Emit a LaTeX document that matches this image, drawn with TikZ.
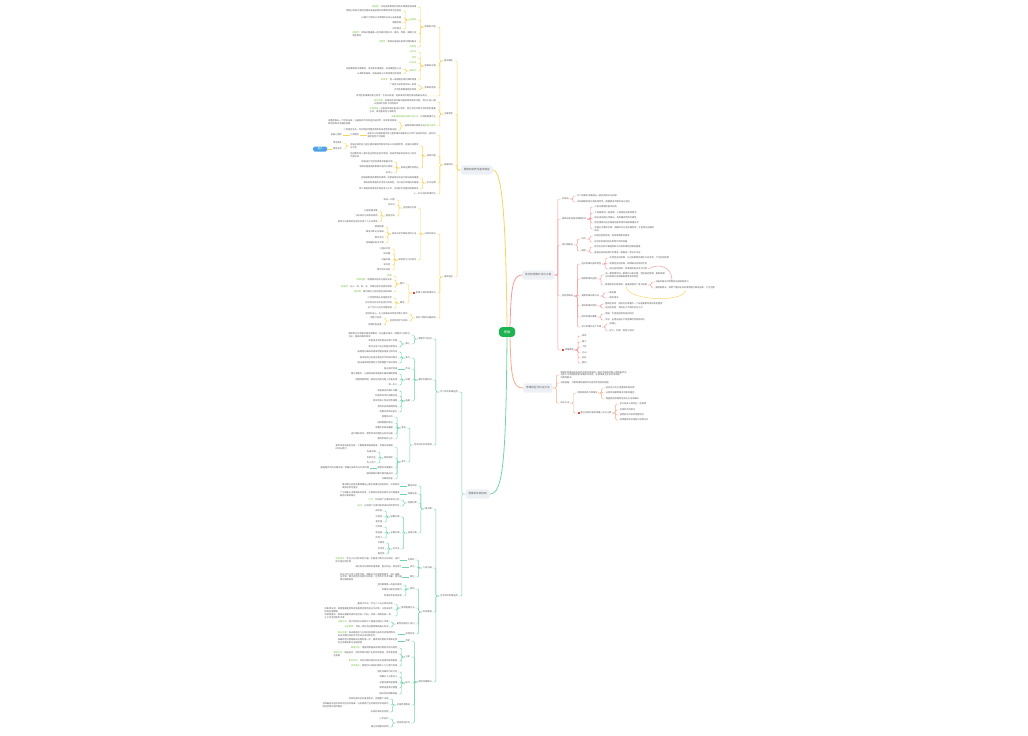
\documentclass[tikz,border=0pt]{standalone}
\usepackage{fontspec}
\setmainfont{Noto Sans CJK SC}
\usetikzlibrary{positioning}
\definecolor{rootgreen}{HTML}{1DB350}
\definecolor{topicgrey}{HTML}{EDF0F4}
\definecolor{textgrey}{HTML}{5C5C5C}
\definecolor{linkyellow}{HTML}{F8D35E}
\definecolor{linkred}{HTML}{F59A9A}
\definecolor{linkorange}{HTML}{F7AE86}
\definecolor{linkgreen}{HTML}{6FD6A8}
\definecolor{taggreen}{HTML}{78C043}
\definecolor{markred}{HTML}{E8453C}
\definecolor{noteblue}{HTML}{4DA3E6}
\newcommand{\tg}[1]{\textcolor{taggreen}{#1}}
\newcommand{\redmark}{\textcolor{markred}{\rule[-0.3pt]{2.2pt}{2.2pt}}\hspace{0.7pt}}
\tikzset{
  leaf/.style={font=\fontsize{2.2}{2.7}\selectfont,text=textgrey,inner sep=0.5pt,align=left},
  lc/.style={leaf,anchor=east,xshift=-7pt},
  rc/.style={leaf,anchor=west,xshift=7pt},
  topic/.style={fill=topicgrey,rounded corners=2.5pt,font=\fontsize{2.6}{3}\selectfont,
    text=textgrey,inner xsep=3pt,minimum height=7pt},
  rootnode/.style={fill=rootgreen,text=white,rounded corners=3pt,font=\fontsize{3.2}{4}\selectfont,
    minimum width=16pt,minimum height=8pt},
  note/.style={fill=noteblue,text=white,rounded corners=1.5pt,font=\fontsize{2.3}{2.8}\selectfont,
    minimum width=14pt,minimum height=5pt,inner sep=0.5pt},
  link/.style={line width=0.45pt,rounded corners=1.2pt},
  yl/.style={link,draw=linkyellow},
  rl/.style={link,draw=linkred},
  ol/.style={link,draw=linkorange},
  gl/.style={link,draw=linkgreen},
  trunk/.style={line width=0.8pt}
}
\begin{document}
\begin{tikzpicture}[x=1pt,y=-1pt]
\fill[white] (0,0) rectangle (1028,736);
\useasboundingbox (0,0) rectangle (1028,736);

% centre and main topics
\node[rootnode] (root) at (507,332) {思维};
\node[topic,anchor=east] (y0) at (493,170) {思维的本质与基本特征};
\node[topic,anchor=west] (r1) at (522,275) {常见的思维方法与工具};
\node[topic,anchor=west] (r2) at (523,388) {思维误区与纠正方法};
\node[topic,anchor=east] (g0) at (490,494) {思维的实践应用};
\draw[trunk,draw=linkyellow] (root.north) .. controls (506,230) and (503,170) .. (y0.east);
\draw[trunk,draw=linkred] ([xshift=3pt]root.north) .. controls (511,290) and (512,275) .. (r1.west);
\draw[trunk,draw=linkorange] ([xshift=3pt]root.south) .. controls (511,375) and (512,388) .. (r2.west);
\draw[trunk,draw=linkgreen] (root.south) .. controls (506,460) and (503,494) .. (g0.east);

% ---- yellow branch
\node[lc] (ya) at (y0.west |- 0,61) {基本属性};
\node[lc] (yb) at (y0.west |- 0,114) {主要类型};
\node[lc] (yc) at (y0.west |- 0,165) {发展阶段};
\node[lc] (yd) at (y0.west |- 0,277) {培养途径};
\foreach \c in {ya,yb,yc,yd} \draw[yl] (y0.west) -- ++(-3.5pt,0) |- (\c.east);

\node[lc] (ya1) at (ya.west |- 0,27) {思维的对象};
\node[lc] (ya2) at (ya.west |- 0,66) {思维的过程};
\node[lc] (ya3) at (ya.west |- 0,88) {思维的品质};
\node[lc,xshift=-9pt] (ya4) at (ya.west |- 0,96) {批判性思维要求独立思考，不盲从权威，能够发现问题并提出质疑与改进};
\foreach \c in {ya1,ya2,ya3,ya4} \draw[yl] (ya.west) -- ++(-3.5pt,0) |- (\c.east);

\node[lc] (ya1a) at (ya1.west |- 0,7) {\tg{概括性}：反映同类事物共同的本质属性和规律};
\node[lc] (ya1b) at (ya1.west |- 0,20) {\tg{间接性}};
\node[lc] (ya1c) at (ya1.west |- 0,34) {\tg{逻辑性}：思维过程遵循一定的规则和形式，概念、判断、推理之间\\相互联系};
\node[lc] (ya1d) at (ya1.west |- 0,42) {\tg{问题性}：思维总是指向具体问题的解决};
\node[lc] (ya1e) at (ya1.west |- 0,47) {\tg{目的性}};
\foreach \c in {ya1a,ya1b,ya1c,ya1d,ya1e} \draw[yl] (ya1.west) -- ++(-3.5pt,0) |- (\c.east);
\node[lc] (ya1b1) at (ya1b.west |- 0,11) {借助已有知识和经验推知未直接感知的事物及其内在联系};
\node[lc] (ya1b2) at (ya1b.west |- 0,18) {以媒介为桥梁认识事物的过去与未来发展};
\node[lc] (ya1b3) at (ya1b.west |- 0,23) {推理判断};
\node[lc] (ya1b4) at (ya1b.west |- 0,29) {科学预见};
\foreach \c in {ya1b1,ya1b2,ya1b3,ya1b4} \draw[yl] (ya1b.west) -- ++(-3.5pt,0) |- (\c.east);

\node[lc] (ya2a) at (ya2.west |- 0,52) {\tg{分析法}};
\node[lc] (ya2b) at (ya2.west |- 0,58) {\tg{综合}};
\node[lc] (ya2c) at (ya2.west |- 0,63) {\tg{比较法}};
\node[lc] (ya2d) at (ya2.west |- 0,71) {\tg{抽象化}};
\node[lc] (ya2e) at (ya2.west |- 0,80) {\tg{具体化}：把一般原理应用到具体情境};
\foreach \c in {ya2a,ya2b,ya2c,ya2d,ya2e} \draw[yl] (ya2.west) -- ++(-3.5pt,0) |- (\c.east);
\node[lc] (ya2d1) at (ya2d.west |- 0,69) {抽取事物的本质属性，舍弃非本质属性，形成概括性认识};
\node[lc] (ya2d2) at (ya2d.west |- 0,74) {从具体到抽象，再由抽象上升到思维中的具体};
\foreach \c in {ya2d1,ya2d2} \draw[yl] (ya2d.west) -- ++(-3.5pt,0) |- (\c.east);

\node[lc] (ya3a) at (ya3.west |- 0,85) {广阔性与深刻性的统一表现};
\node[lc] (ya3b) at (ya3.west |- 0,90) {灵活性和敏捷性的体现};
\foreach \c in {ya3a,ya3b} \draw[yl] (ya3.west) -- ++(-3.5pt,0) |- (\c.east);

\node[lc] (yb1) at (yb.west |- 0,102) {\tg{动作思维}：依靠实际动作解决直观而具体的问题，常见于幼儿期\\以及操作性的工作情境中};
\node[lc] (yb2) at (yb.west |- 0,110) {\tg{形象思维}：运用表象和形象进行思考，是艺术创作和文学构思的重要\\方式，具有直观性与想象性};
\node[lc] (yb3) at (yb.west |- 0,117) {\tg{抽象逻辑思维以概念为形式}，以判断推理为主};
\node[lc] (yb4) at (yb.west |- 0,126) {按照思维的探索方向\tg{发散与聚合}};
\foreach \c in {yb1,yb2,yb3,yb4} \draw[yl] (yb.west) -- ++(-3.5pt,0) |- (\c.east);
\node[lc] (yb4a) at (yb4.west |- 0,122) {发散思维从一个目标出发，沿着各种不同的途径去思考，探求多种答案\\聚合思维寻求最佳答案};
\node[lc] (yb4b) at (yb4.west |- 0,130) {二者相互补充，共同构成完整而有效的创造性思维过程};
\foreach \c in {yb4a,yb4b} \draw[yl] (yb4.west) -- ++(-3.5pt,0) |- (\c.east);

\node[lc] (yc1) at (yc.west |- 0,135) {皮亚杰认知发展理论将儿童思维的发展划分为四个连续的阶段，各阶段\\顺序固定不可逾越};
\node[lc] (yc2) at (yc.west |- 0,156) {具体内容};
\node[lc] (yc3) at (yc.west |- 0,183) {形式运算};
\node[lc] (yc4) at (yc.west |- 0,194) {十一岁以后的思维特点};
\foreach \c in {yc1,yc2,yc3,yc4} \draw[yl] (yc.west) -- ++(-3.5pt,0) |- (\c.east);
\node[lc] (yc1x) at (yc1.west |- 0,135) {认知理论};
\node[lc] (yc1y) at (yc1x.west |- 0,135) {发展心理学};
\draw[yl] (yc1.west) -- (yc1x.east);
\draw[yl] (yc1x.west) -- (yc1y.east);
\node[lc] (yc2a) at (yc2.west |- 0,146) {感知运动阶段儿童主要依靠感觉和动作来认识周围世界，逐渐形成客体\\永久性};
\node[lc] (yc2b) at (yc2.west |- 0,155) {前运算阶段儿童开始运用符号进行思维，但具有明显的自我中心特点，\\不能守恒};
\node[lc] (yc2c) at (yc2.west |- 0,168) {具体运算阶段特征};
\foreach \c in {yc2a,yc2b,yc2c} \draw[yl] (yc2.west) -- ++(-3.5pt,0) |- (\c.east);
\node[lc] (yc2a1) at (yc2a.west |- 0,143) {零至两岁};
\node[lc] (yc2a2) at (yc2a.west |- 0,149) {客体永存};
\foreach \c in {yc2a1,yc2a2} \draw[yl] (yc2a.west) -- ++(-3.5pt,0) |- (\c.east);
\node[note,anchor=east,xshift=-5pt] (yc2n) at (yc2a2.west |- 0,149) {重点};
\draw[yl] (yc2a2.west) -- (yc2n.east);
\node[lc] (yc2c1) at (yc2c.west |- 0,162) {能够进行可逆性思维并掌握守恒};
\node[lc] (yc2c2) at (yc2c.west |- 0,167) {思维仍需要具体事物的支持与帮助};
\node[lc] (yc2c3) at (yc2c.west |- 0,173) {去中心};
\foreach \c in {yc2c1,yc2c2,yc2c3} \draw[yl] (yc2c.west) -- ++(-3.5pt,0) |- (\c.east);
\node[lc] (yc3a) at (yc3.west |- 0,178) {能够摆脱具体事物的束缚，运用抽象符号进行假设演绎推理};
\node[lc] (yc3b) at (yc3.west |- 0,183) {思维具有更高的灵活性与系统性，可以进行命题间的推理};
\node[lc] (yc3c) at (yc3.west |- 0,189) {青少年期的思维逐步接近成人水平，形成较为完整的逻辑体系};
\foreach \c in {yc3a,yc3b,yc3c} \draw[yl] (yc3.west) -- ++(-3.5pt,0) |- (\c.east);

\node[lc] (yd1) at (yd.west |- 0,234) {日常训练法};
\node[lc] (yd2) at (yd.west |- 0,293) {\redmark 思维工具的使用技巧};
\node[lc] (yd3) at (yd.west |- 0,318) {良好习惯的长期养成};
\foreach \c in {yd1,yd2,yd3} \draw[yl] (yd.west) -- ++(-3.5pt,0) |- (\c.east);
\node[lc] (yd1a) at (yd1.west |- 0,208) {坚持提问反思};
\node[lc] (yd1b) at (yd1.west |- 0,234) {阅读与写作相结合的方法};
\node[lc] (yd1c) at (yd1.west |- 0,260) {积极参与讨论辩论};
\foreach \c in {yd1a,yd1b,yd1c} \draw[yl] (yd1.west) -- ++(-3.5pt,0) |- (\c.east);
\node[lc] (yd1a1) at (yd1a.west |- 0,200) {每日一问题};
\node[lc] (yd1a2) at (yd1a.west |- 0,205) {写日记};
\node[lc] (yd1a3) at (yd1a.west |- 0,216) {复盘总结};
\foreach \c in {yd1a1,yd1a2,yd1a3} \draw[yl] (yd1a.west) -- ++(-3.5pt,0) |- (\c.east);
\node[lc] (yd1a3a) at (yd1a3.west |- 0,211) {记录关键决策};
\node[lc] (yd1a3b) at (yd1a3.west |- 0,216) {分析成功与失败的原因};
\node[lc] (yd1a3c) at (yd1a3.west |- 0,222) {提炼可以复用的经验并形成个人方法清单};
\foreach \c in {yd1a3a,yd1a3b,yd1a3c} \draw[yl] (yd1a3.west) -- ++(-3.5pt,0) |- (\c.east);
\node[lc] (yd1b1) at (yd1b.west |- 0,227) {精读经典};
\node[lc] (yd1b2) at (yd1b.west |- 0,232) {做读书笔记与摘录};
\node[lc] (yd1b3) at (yd1b.west |- 0,238) {撰写评论};
\node[lc] (yd1b4) at (yd1b.west |- 0,243) {定期输出观点文章};
\foreach \c in {yd1b1,yd1b2,yd1b3,yd1b4} \draw[yl] (yd1b.west) -- ++(-3.5pt,0) |- (\c.east);
\node[lc] (yd1c1) at (yd1c.west |- 0,249) {小组研讨会};
\node[lc] (yd1c2) at (yd1c.west |- 0,254) {辩论赛};
\node[lc] (yd1c3) at (yd1c.west |- 0,260) {头脑风暴};
\node[lc] (yd1c4) at (yd1c.west |- 0,265) {读书会};
\node[lc] (yd1c5) at (yd1c.west |- 0,270) {跨学科交流会};
\foreach \c in {yd1c1,yd1c2,yd1c3,yd1c4,yd1c5} \draw[yl] (yd1c.west) -- ++(-3.5pt,0) |- (\c.east);
\node[lc] (yd2a) at (yd2.west |- 0,284) {图示};
\node[lc] (yd2b) at (yd2.west |- 0,303) {模型};
\foreach \c in {yd2a,yd2b} \draw[yl] (yd2.west) -- ++(-3.5pt,0) |- (\c.east);
\node[lc] (yd2a1) at (yd2a.west |- 0,276) {\tg{导图}};
\node[lc] (yd2a2) at (yd2a.west |- 0,280) {\tg{思维导图}：梳理知识结构与层次关系};
\node[lc] (yd2a3) at (yd2a.west |- 0,287) {\tg{鱼骨图}：从人、机、料、法、环等方面寻找根本原因};
\node[lc] (yd2a4) at (yd2a.west |- 0,292) {\tg{概念图}：展示概念之间的相互关系网络};
\foreach \c in {yd2a1,yd2a2,yd2a3,yd2a4} \draw[yl] (yd2a.west) -- ++(-3.5pt,0) |- (\c.east);
\node[lc] (yd2b1) at (yd2b.west |- 0,298) {六顶思考帽从多角度思考};
\node[lc] (yd2b2) at (yd2b.west |- 0,303) {优劣势分析法评估内外环境};
\node[lc] (yd2b3) at (yd2b.west |- 0,308) {五个为什么追问问题根源};
\foreach \c in {yd2b1,yd2b2,yd2b3} \draw[yl] (yd2b.west) -- ++(-3.5pt,0) |- (\c.east);
\node[lc] (yd3a) at (yd3.west |- 0,314) {保持好奇心，乐于探索未知领域并勇于尝试};
\node[lc] (yd3b) at (yd3.west |- 0,321) {坚持持续学习实践};
\foreach \c in {yd3a,yd3b} \draw[yl] (yd3.west) -- ++(-3.5pt,0) |- (\c.east);
\node[lc] (yd3b1) at (yd3b.west |- 0,318) {制定计划表};
\node[lc] (yd3b2) at (yd3b.west |- 0,325) {定期检查进度};
\foreach \c in {yd3b1,yd3b2} \draw[yl] (yd3b.west) -- ++(-3.5pt,0) |- (\c.east);

% ---- red branch
\node[rc] (r1a) at (r1.east |- 0,199) {归纳法};
\node[rc] (r1b) at (r1.east |- 0,219) {演绎法及其基本推理形式};
\node[rc] (r1c) at (r1.east |- 0,245) {类比推理法};
\node[rc] (r1d) at (r1.east |- 0,296) {创新思维法};
\node[rc] (r1e) at (r1.east |- 0,350) {\redmark 思维模型};
\foreach \c in {r1a,r1b,r1c,r1d,r1e} \draw[rl] (r1.east) -- ++(3.5pt,0) |- (\c.west);
\node[rc] (r1a1) at (r1a.east |- 0,196) {从个别事实中概括出一般性的结论与规律};
\node[rc] (r1a2) at (r1a.east |- 0,202) {归纳推理的结论具有或然性，需要更多的事实加以验证};
\foreach \c in {r1a1,r1a2} \draw[rl] (r1a.east) -- ++(3.5pt,0) |- (\c.west);
\node[rc] (r1b1) at (r1b.east |- 0,207) {三段论推理的基本结构};
\node[rc] (r1b2) at (r1b.east |- 0,213) {大前提提供一般原理，小前提陈述具体情况};
\node[rc] (r1b3) at (r1b.east |- 0,218) {结论由前提必然推出，具有确定性和可靠性};
\node[rc] (r1b4) at (r1b.east |- 0,223) {假言推理与选言推理也是常用的演绎推理形式};
\node[rc] (r1b5) at (r1b.east |- 0,229) {前提必须真实可靠，推理形式必须正确有效，才能得出正确的\\结论};
\foreach \c in {r1b1,r1b2,r1b3,r1b4,r1b5} \draw[rl] (r1b.east) -- ++(3.5pt,0) |- (\c.west);
\node[rc] (r1c1) at (r1c.east |- 0,239) {优点};
\node[rc] (r1c2) at (r1c.east |- 0,251) {局限};
\foreach \c in {r1c1,r1c2} \draw[rl] (r1c.east) -- ++(3.5pt,0) |- (\c.west);
\node[rc] (r1c1a) at (r1c1.east |- 0,236) {启发创造性思维，发现事物新的联系};
\node[rc] (r1c1b) at (r1c1.east |- 0,242) {在科学发现和技术发明中作用显著};
\foreach \c in {r1c1a,r1c1b} \draw[rl] (r1c1.east) -- ++(3.5pt,0) |- (\c.west);
\node[rc] (r1c2a) at (r1c2.east |- 0,247) {类比结论的可靠程度取决于两类事物的相似程度};
\node[rc] (r1c2b) at (r1c2.east |- 0,253) {容易出现机械类比的错误，需要进一步加以论证};
\foreach \c in {r1c2a,r1c2b} \draw[rl] (r1c2.east) -- ++(3.5pt,0) |- (\c.west);
\node[rc] (r1d1) at (r1d.east |- 0,264) {逆向思维的基本类型};
\node[rc] (r1d2) at (r1d.east |- 0,279) {联想思维的运用};
\node[rc] (r1d3) at (r1d.east |- 0,296) {发散思维训练方法};
\node[rc] (r1d4) at (r1d.east |- 0,306) {系统思维的特点};
\node[rc] (r1d5) at (r1d.east |- 0,317) {批判思维的要素};
\node[rc] (r1d6) at (r1d.east |- 0,327) {设计思维的五个步骤};
\foreach \c in {r1d1,r1d2,r1d3,r1d4,r1d5,r1d6} \draw[rl] (r1d.east) -- ++(3.5pt,0) |- (\c.west);
\node[rc] (r1d1a) at (r1d1.east |- 0,258) {反转型逆向思维：从已知事物的相反方向思考，产生新的构想};
\node[rc] (r1d1b) at (r1d1.east |- 0,264) {转换型逆向思维：转换解决问题的手段};
\node[rc] (r1d1c) at (r1d1.east |- 0,269) {缺点逆用思维：将事物的缺点变为可用};
\foreach \c in {r1d1a,r1d1b,r1d1c} \draw[rl] (r1d1.east) -- ++(3.5pt,0) |- (\c.west);
\node[rc] (r1d2a) at (r1d2.east |- 0,275) {由一事物想到另一事物的心理过程，包括接近联想、相似联想\\对比联想以及因果联想等多种类型};
\node[rc] (r1d2b) at (r1d2.east |- 0,285) {联想能够打破常规，拓展思路的广度与深度};
\foreach \c in {r1d2a,r1d2b} \draw[rl] (r1d2.east) -- ++(3.5pt,0) |- (\c.west);
\node[rc] (r1d2b1) at (r1d2b.east |- 0,282) {头脑风暴法中常用的自由联想技巧};
\node[rc] (r1d2b2) at (r1d2b.east |- 0,288) {强制联想法：将两个看似无关的事物强行联系起来，产生创意};
\foreach \c in {r1d2b1,r1d2b2} \draw[rl] (r1d2b.east) -- ++(3.5pt,0) |- (\c.west);
\node[rc] (r1d3a) at (r1d3.east |- 0,293) {一题多解};
\node[rc] (r1d3b) at (r1d3.east |- 0,298) {一物多用法};
\foreach \c in {r1d3a,r1d3b} \draw[rl] (r1d3.east) -- ++(3.5pt,0) |- (\c.west);
\node[rc] (r1d4a) at (r1d4.east |- 0,304) {整体性原则：把研究对象看作一个由各要素构成的有机整体};
\node[rc] (r1d4b) at (r1d4.east |- 0,308) {动态性原则：系统处于不断的变化之中};
\foreach \c in {r1d4a,r1d4b} \draw[rl] (r1d4.east) -- ++(3.5pt,0) |- (\c.west);
\node[rc] (r1d5a) at (r1d5.east |- 0,314) {质疑：不轻易接受现成的结论};
\node[rc] (r1d5b) at (r1d5.east |- 0,320) {求证：运用证据与严密逻辑检验各种观点};
\foreach \c in {r1d5a,r1d5b} \draw[rl] (r1d5.east) -- ++(3.5pt,0) |- (\c.west);
\node[rc] (r1d6a) at (r1d6.east |- 0,324) {同理心};
\node[rc] (r1d6b) at (r1d6.east |- 0,331) {定义、构思、原型与测试};
\foreach \c in {r1d6a,r1d6b} \draw[rl] (r1d6.east) -- ++(3.5pt,0) |- (\c.west);
\node[rc] (r1e1) at (r1e.east |- 0,336) {矩阵};
\node[rc] (r1e2) at (r1e.east |- 0,342) {漏斗};
\node[rc] (r1e3) at (r1e.east |- 0,347) {飞轮};
\node[rc] (r1e4) at (r1e.east |- 0,353) {冰山};
\node[rc] (r1e5) at (r1e.east |- 0,358) {杠杆};
\node[rc] (r1e6) at (r1e.east |- 0,363) {复利};
\foreach \c in {r1e1,r1e2,r1e3,r1e4,r1e5,r1e6} \draw[rl] (r1e.east) -- ++(3.5pt,0) |- (\c.west);
% relation curves
\draw[link,draw=linkred] (r1d1c.east) .. controls (660,262) and (672,268) .. (r1d2b1.north);
\draw[link,draw=linkyellow] (r1d2b.south) .. controls (628,302) and (688,302) .. (r1d2b2.south);

% ---- orange branch
\node[rc] (r2a) at (r2.east |- 0,375) {思维定势是指由先前的活动所造成的一种对活动的特殊心理准备状态，\\它使人习惯按固定的思路考虑问题，在情境发生变化时会妨碍\\问题的解决};
\node[rc] (r2b) at (r2.east |- 0,383) {功能固着：只看到事物通常的功能而忽视其他用途};
\node[rc] (r2c) at (r2.east |- 0,403) {纠正方法};
\foreach \c in {r2a,r2b,r2c} \draw[ol] (r2.east) -- ++(3.5pt,0) |- (\c.west);
\node[rc] (r2c1) at (r2c.east |- 0,393) {转换视角的几种做法};
\node[rc] (r2c2) at (r2c.east |- 0,413) {\redmark 建立开放包容的思维心态与习惯};
\foreach \c in {r2c1,r2c2} \draw[ol] (r2c.east) -- ++(3.5pt,0) |- (\c.west);
\node[rc] (r2c1a) at (r2c1.east |- 0,388) {站在他人的立场重新审视问题};
\node[rc] (r2c1b) at (r2c1.east |- 0,393) {从目标结果倒推寻找新的路径};
\node[rc] (r2c1c) at (r2c1.east |- 0,399) {借鉴其他领域的经验与方法来解决};
\foreach \c in {r2c1a,r2c1b,r2c1c} \draw[ol] (r2c1.east) -- ++(3.5pt,0) |- (\c.west);
\node[rc] (r2c2a) at (r2c2.east |- 0,404) {承认自身认知存在一定局限};
\node[rc] (r2c2b) at (r2c2.east |- 0,410) {多倾听不同意见};
\node[rc] (r2c2c) at (r2c2.east |- 0,415) {接受批评并及时调整观点};
\node[rc] (r2c2d) at (r2c2.east |- 0,420) {持续更新知识结构与思维方式};
\foreach \c in {r2c2a,r2c2b,r2c2c,r2c2d} \draw[ol] (r2c2.east) -- ++(3.5pt,0) |- (\c.west);

% ---- green branch
\node[lc] (g1) at (g0.west |- 0,392) {学习中的思维运用};
\node[lc] (g2) at (g0.west |- 0,596) {生活中的思维运用};
\foreach \c in {g1,g2} \draw[gl] (g0.west) -- ++(-3.5pt,0) |- (\c.east);

\node[lc] (g1a) at (g1.west |- 0,339) {课堂学习阶段};
\node[lc] (g1b) at (g1.west |- 0,380) {课后巩固阶段};
\node[lc] (g1c) at (g1.west |- 0,445) {考试中的应试思维};
\foreach \c in {g1a,g1b,g1c} \draw[gl] (g1.west) -- ++(-3.5pt,0) |- (\c.east);
\node[lc] (g1a1) at (g1a.west |- 0,335) {课前预习时带着问题阅读教材，标出重点难点，明确学习目标与\\方向，提高听课的效率};
\node[lc] (g1a2) at (g1a.west |- 0,344) {课上};
\foreach \c in {g1a1,g1a2} \draw[gl] (g1a.west) -- ++(-3.5pt,0) |- (\c.east);
\node[lc] (g1a2a) at (g1a2.west |- 0,341) {积极思考老师提出的每个问题};
\node[lc] (g1a2b) at (g1a2.west |- 0,347) {及时记录下自己的疑问和想法};
\foreach \c in {g1a2a,g1a2b} \draw[gl] (g1a2.west) -- ++(-3.5pt,0) |- (\c.east);

\node[lc] (g1b1) at (g1b.west |- 0,358) {复习};
\node[lc] (g1b2) at (g1b.west |- 0,369) {作业};
\node[lc] (g1b3) at (g1b.west |- 0,380) {纠错};
\node[lc] (g1b4) at (g1b.west |- 0,401) {拓展};
\foreach \c in {g1b1,g1b2,g1b3,g1b4} \draw[gl] (g1b.west) -- ++(-3.5pt,0) |- (\c.east);
\node[lc] (g1b1a) at (g1b1.west |- 0,352) {按照遗忘曲线的规律合理安排复习的时间};
\node[lc] (g1b1b) at (g1b1.west |- 0,358) {尝试用自己的语言复述所学的知识要点};
\node[lc] (g1b1c) at (g1b1.west |- 0,363) {通过画思维导图的方式梳理整个知识体系};
\foreach \c in {g1b1a,g1b1b,g1b1c} \draw[gl] (g1b1.west) -- ++(-3.5pt,0) |- (\c.east);
\node[lc] (g1b2a) at (g1b2.west |- 0,369) {独立按时完成};
\draw[gl] (g1b2.west) -- (g1b2a.east);
\node[lc] (g1b3a) at (g1b3.west |- 0,374) {建立错题本，记录错误的原因和正确的解题思路};
\node[lc] (g1b3b) at (g1b3.west |- 0,380) {定期回顾错题，避免在同类问题上反复出错};
\node[lc] (g1b3c) at (g1b3.west |- 0,385) {举一反三};
\foreach \c in {g1b3a,g1b3b,g1b3c} \draw[gl] (g1b3.west) -- ++(-3.5pt,0) |- (\c.east);
\node[lc] (g1b4a) at (g1b4.west |- 0,391) {阅读相关的课外书籍};
\node[lc] (g1b4b) at (g1b4.west |- 0,396) {积极参加学科竞赛活动};
\node[lc] (g1b4c) at (g1b4.west |- 0,401) {尝试完成小型研究性课题};
\node[lc] (g1b4d) at (g1b4.west |- 0,407) {参观科技馆和博物馆};
\node[lc] (g1b4e) at (g1b4.west |- 0,412) {观看优秀的纪录片};
\foreach \c in {g1b4a,g1b4b,g1b4c,g1b4d,g1b4e} \draw[gl] (g1b4.west) -- ++(-3.5pt,0) |- (\c.east);

\node[lc] (g1c1) at (g1c.west |- 0,428) {考前};
\node[lc] (g1c2) at (g1c.west |- 0,462) {考中};
\foreach \c in {g1c1,g1c2} \draw[gl] (g1c.west) -- ++(-3.5pt,0) |- (\c.east);
\node[lc] (g1c1a) at (g1c1.west |- 0,417) {梳理知识点};
\node[lc] (g1c1b) at (g1c1.west |- 0,423) {回顾错题和笔记};
\node[lc] (g1c1c) at (g1c1.west |- 0,428) {调整作息保证睡眠};
\node[lc] (g1c1d) at (g1c1.west |- 0,434) {进行模拟测试，熟悉考试的题型与时间分配};
\node[lc] (g1c1e) at (g1c1.west |- 0,439) {保持积极的心态};
\foreach \c in {g1c1a,g1c1b,g1c1c,g1c1d,g1c1e} \draw[gl] (g1c1.west) -- ++(-3.5pt,0) |- (\c.east);
\node[lc] (g1c2a) at (g1c2.west |- 0,447) {拿到试卷先通览全卷，了解题量和难易程度，合理分配答题\\时间与精力};
\node[lc] (g1c2b) at (g1c2.west |- 0,458) {答题顺序};
\node[lc] (g1c2c) at (g1c2.west |- 0,468) {审题的关键要点};
\node[lc] (g1c2d) at (g1c2.west |- 0,474) {遇到难题时要冷静沉着应对};
\node[lc] (g1c2e) at (g1c2.west |- 0,479) {仔细地检查};
\foreach \c in {g1c2a,g1c2b,g1c2c,g1c2d,g1c2e} \draw[gl] (g1c2.west) -- ++(-3.5pt,0) |- (\c.east);
\node[lc] (g1c2b1) at (g1c2b.west |- 0,452) {先易后难};
\node[lc] (g1c2b2) at (g1c2b.west |- 0,458) {先熟后生};
\node[lc] (g1c2b3) at (g1c2b.west |- 0,463) {先小后大};
\foreach \c in {g1c2b1,g1c2b2,g1c2b3} \draw[gl] (g1c2b.west) -- ++(-3.5pt,0) |- (\c.east);
\node[lc] (g1c2c1) at (g1c2c.west |- 0,468) {圈画题目中的关键词语，明确已知条件与所求问题};
\draw[gl] (g1c2c.west) -- (g1c2c1.east);

\node[lc] (g2a) at (g2.west |- 0,509) {做决策};
\node[lc] (g2b) at (g2.west |- 0,568) {人际沟通};
\node[lc] (g2c) at (g2.west |- 0,612) {时间管理};
\node[lc] (g2d) at (g2.west |- 0,682) {职场问题解决};
\foreach \c in {g2a,g2b,g2c,g2d} \draw[gl] (g2.west) -- ++(-3.5pt,0) |- (\c.east);

\node[lc] (g2a1) at (g2a.west |- 0,486) {确定目标};
\node[lc] (g2a2) at (g2a.west |- 0,494) {收集信息};
\node[lc] (g2a3) at (g2a.west |- 0,503) {权衡利弊};
\node[lc] (g2a4) at (g2a.west |- 0,533) {选择方案};
\foreach \c in {g2a1,g2a2,g2a3,g2a4} \draw[gl] (g2a.west) -- ++(-3.5pt,0) |- (\c.east);
\node[lc] (g2a1a) at (g2a1.west |- 0,486) {做决策之前首先要明确自己真正想要达成的目标，并将目标\\具体化和可量化};
\draw[gl] (g2a1.west) -- (g2a1a.east);
\node[lc] (g2a2a) at (g2a2.west |- 0,494) {广泛收集与决策相关的信息，注意辨别信息的真伪与可靠程度\\避免片面和偏见};
\draw[gl] (g2a2.west) -- (g2a2a.east);
\node[lc] (g2a3a) at (g2a3.west |- 0,500) {\tg{优点}：列出每个方案的有利之处};
\node[lc] (g2a3b) at (g2a3.west |- 0,506) {\tg{缺点}：分析每个方案可能带来的风险和代价};
\foreach \c in {g2a3a,g2a3b} \draw[gl] (g2a3.west) -- ++(-3.5pt,0) |- (\c.east);
\node[lc] (g2a4a) at (g2a4.west |- 0,517) {短期方案};
\node[lc] (g2a4b) at (g2a4.west |- 0,533) {长期方案};
\node[lc] (g2a4c) at (g2a4.west |- 0,549) {折中法};
\foreach \c in {g2a4a,g2a4b,g2a4c} \draw[gl] (g2a4.west) -- ++(-3.5pt,0) |- (\c.east);
\node[lc] (g2a4a1) at (g2a4a.west |- 0,511) {成本低};
\node[lc] (g2a4a2) at (g2a4a.west |- 0,517) {见效快};
\node[lc] (g2a4a3) at (g2a4a.west |- 0,522) {易实施};
\foreach \c in {g2a4a1,g2a4a2,g2a4a3} \draw[gl] (g2a4a.west) -- ++(-3.5pt,0) |- (\c.east);
\node[lc] (g2a4b1) at (g2a4b.west |- 0,527) {可持续};
\node[lc] (g2a4b2) at (g2a4b.west |- 0,533) {收益高};
\node[lc] (g2a4b3) at (g2a4b.west |- 0,538) {风险小};
\foreach \c in {g2a4b1,g2a4b2,g2a4b3} \draw[gl] (g2a4b.west) -- ++(-3.5pt,0) |- (\c.east);
\node[lc] (g2a4c1) at (g2a4c.west |- 0,543) {平衡性};
\node[lc] (g2a4c2) at (g2a4c.west |- 0,549) {灵活性};
\node[lc] (g2a4c3) at (g2a4c.west |- 0,554) {稳定性};
\foreach \c in {g2a4c1,g2a4c2,g2a4c3} \draw[gl] (g2a4c.west) -- ++(-3.5pt,0) |- (\c.east);

\node[lc] (g2b1) at (g2b.west |- 0,560) {先倾听};
\node[lc] (g2b2) at (g2b.west |- 0,567) {表达};
\node[lc] (g2b3) at (g2b.west |- 0,577) {换位};
\foreach \c in {g2b1,g2b2,g2b3} \draw[gl] (g2b.west) -- ++(-3.5pt,0) |- (\c.east);
\node[lc] (g2b1a) at (g2b1.west |- 0,560) {\tg{积极倾听}：专注于对方所说的内容，不随意打断对方的讲话，适时\\给予回应和反馈};
\draw[gl] (g2b1.west) -- (g2b1a.east);
\node[lc] (g2b2a) at (g2b2.west |- 0,567) {表达观点时做到条理清晰、重点突出、简洁明了};
\draw[gl] (g2b2.west) -- (g2b2a.east);
\node[lc] (g2b3a) at (g2b3.west |- 0,577) {站在对方立场上思考问题，理解对方的感受和需求，减少误解\\与冲突，建立相互信任的良好关系，在合作中寻求共赢，使沟通\\更加顺畅高效};
\draw[gl] (g2b3.west) -- (g2b3a.east);

\node[lc] (g2c1) at (g2c.west |- 0,589) {原则};
\node[lc] (g2c2) at (g2c.west |- 0,608) {常用管理方法};
\node[lc] (g2c3) at (g2c.west |- 0,624) {避免拖延的小技巧};
\node[lc] (g2c4) at (g2c.west |- 0,634) {自我反思};
\foreach \c in {g2c1,g2c2,g2c3,g2c4} \draw[gl] (g2c.west) -- ++(-3.5pt,0) |- (\c.east);
\node[lc] (g2c1a) at (g2c1.west |- 0,585) {坚持要事第一的基本原则};
\node[lc] (g2c1b) at (g2c1.west |- 0,590) {合理地分配时间精力};
\node[lc] (g2c1c) at (g2c1.west |- 0,596) {劳逸结合张弛有度};
\foreach \c in {g2c1a,g2c1b,g2c1c} \draw[gl] (g2c1.west) -- ++(-3.5pt,0) |- (\c.east);
\node[lc] (g2c2a) at (g2c2.west |- 0,604) {番茄工作法：专注二十五分钟后休息};
\node[lc] (g2c2b) at (g2c2.west |- 0,610) {四象限法则：按照重要程度和紧急程度将事务划分为四类，分别采取不\\同的处理策略};
\node[lc] (g2c2c) at (g2c2.west |- 0,616) {清单管理法：把每天需要完成的任务逐一列出，完成一项便划掉一项，\\让工作变得有条不紊};
\foreach \c in {g2c2a,g2c2b,g2c2c} \draw[gl] (g2c2.west) -- ++(-3.5pt,0) |- (\c.east);
\node[lc] (g2c3a) at (g2c3.west |- 0,622) {\tg{分解任务}：把大目标拆分成若干个容易完成的小步骤};
\node[lc] (g2c3b) at (g2c3.west |- 0,627) {\tg{设定期限}：为每一项任务设置明确的截止时间};
\foreach \c in {g2c3a,g2c3b} \draw[gl] (g2c3.west) -- ++(-3.5pt,0) |- (\c.east);
\node[lc] (g2c4a) at (g2c4.west |- 0,634) {\tg{每日回顾}：每天睡前花几分钟时间回顾当天的时间使用情况，\\找出浪费时间的环节并加以改进和优化};
\draw[gl] (g2c4.west) -- (g2c4a.east);

\node[lc] (g2d1) at (g2d.west |- 0,641) {界定};
\node[lc] (g2d2) at (g2d.west |- 0,657) {分析};
\node[lc] (g2d3) at (g2d.west |- 0,683) {执行};
\node[lc] (g2d4) at (g2d.west |- 0,705) {总结经验教训};
\node[lc] (g2d5) at (g2d.west |- 0,723) {持续改进优化};
\foreach \c in {g2d1,g2d2,g2d3,g2d4,g2d5} \draw[gl] (g2d.west) -- ++(-3.5pt,0) |- (\c.east);
\node[lc] (g2d1a) at (g2d1.west |- 0,641) {准确界定问题是解决问题的第一步，要弄清问题的本质和边界\\区分表面现象与深层原因};
\draw[gl] (g2d1.west) -- (g2d1a.east);
\node[lc] (g2d2a) at (g2d2.west |- 0,648) {\tg{数据分析}：用客观数据来说明问题的现状与趋势};
\node[lc] (g2d2b) at (g2d2.west |- 0,654) {\tg{根因分析}：层层追问，找到导致问题产生的根本原因，而不是停留\\在表面};
\node[lc] (g2d2c) at (g2d2.west |- 0,661) {\tg{影响评估}：评估问题对团队和业务造成的影响程度};
\node[lc] (g2d2d) at (g2d2.west |- 0,666) {\tg{资源盘点}：梳理可以调动利用的人力与物力资源};
\foreach \c in {g2d2a,g2d2b,g2d2c,g2d2d} \draw[gl] (g2d2.west) -- ++(-3.5pt,0) |- (\c.east);
\node[lc] (g2d3a) at (g2d3.west |- 0,672) {制定详细的行动计划};
\node[lc] (g2d3b) at (g2d3.west |- 0,677) {明确分工与责任人};
\node[lc] (g2d3c) at (g2d3.west |- 0,683) {设置关键的里程碑};
\node[lc] (g2d3d) at (g2d3.west |- 0,688) {跟踪进度及时调整};
\node[lc] (g2d3e) at (g2d3.west |- 0,694) {做好风险预案准备};
\foreach \c in {g2d3a,g2d3b,g2d3c,g2d3d,g2d3e} \draw[gl] (g2d3.west) -- ++(-3.5pt,0) |- (\c.east);
\node[lc] (g2d4a) at (g2d4.west |- 0,699) {项目结束后召开复盘会议，回顾整个过程};
\node[lc] (g2d4b) at (g2d4.west |- 0,705) {对照最初设定的目标评估实际结果，分析差距产生的原因并总结成功\\的经验和失败的教训};
\node[lc] (g2d4c) at (g2d4.west |- 0,712) {形成标准化的流程};
\foreach \c in {g2d4a,g2d4b,g2d4c} \draw[gl] (g2d4.west) -- ++(-3.5pt,0) |- (\c.east);
\node[lc] (g2d5a) at (g2d5.west |- 0,719) {小步迭代};
\node[lc] (g2d5b) at (g2d5.west |- 0,727) {建立反馈循环机制};
\foreach \c in {g2d5a,g2d5b} \draw[gl] (g2d5.west) -- ++(-3.5pt,0) |- (\c.east);
\end{tikzpicture}
\end{document}
